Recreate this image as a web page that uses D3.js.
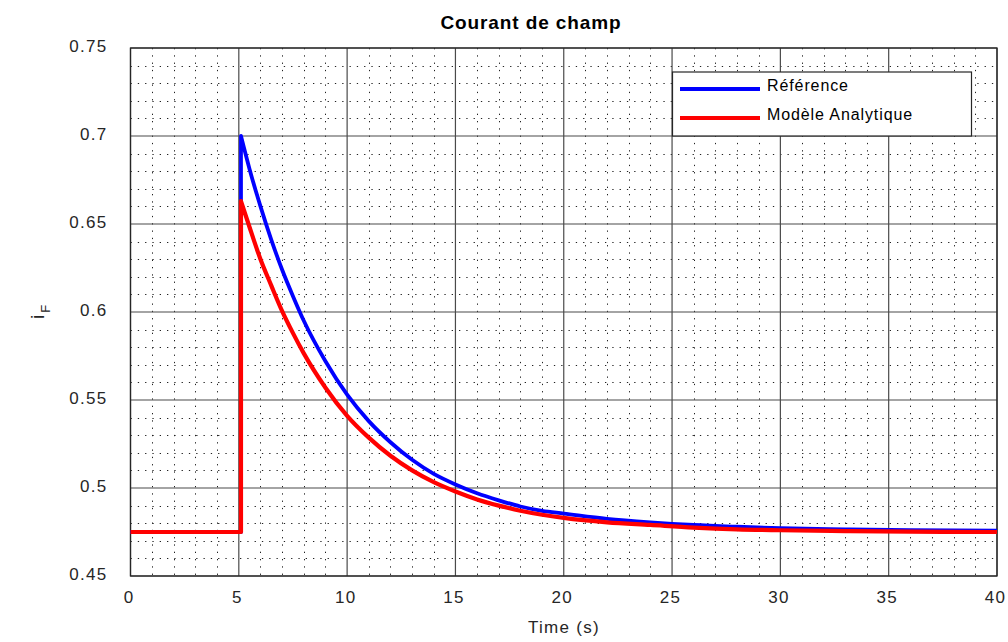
<!DOCTYPE html>
<html>
<head>
<meta charset="utf-8">
<script src="https://cdn.jsdelivr.net/npm/d3@7"></script>
<style>
  html, body { margin: 0; padding: 0; background: #fff; }
  svg { display: block; font-family: "Liberation Sans", Arial, Helvetica, sans-serif; }
</style>
</head>
<body>
<svg id="chart" width="1008" height="642"></svg>
<script>
// ---- data ----
const title = "Courant de champ";
const xLabel = "Time (s)";
const xTicks = [0, 5, 10, 15, 20, 25, 30, 35, 40];
const yTicks = [0.45, 0.5, 0.55, 0.6, 0.65, 0.7, 0.75];
const seriesNames = ["Référence", "Modèle Analytique"];

const refT = [0, 5.1, 5.1, 5.5, 6, 6.5, 7, 7.5, 8, 9, 10, 11, 12, 13, 14, 15, 16, 17, 18, 19, 20, 22, 24, 26, 28, 30, 33, 36, 40];
const refV = [0.475, 0.475, 0.700, 0.681, 0.660, 0.641, 0.624, 0.609, 0.595, 0.572, 0.553, 0.538, 0.526, 0.516, 0.508, 0.502, 0.497, 0.493, 0.4895, 0.487, 0.4855, 0.4825, 0.4805, 0.479, 0.478, 0.4772, 0.4765, 0.476, 0.4757];

const modT = [0, 5.1, 5.1, 5.5, 6, 6.5, 7, 7.5, 8, 9, 10, 11, 12, 13, 14, 15, 16, 17, 18, 19, 20, 22, 24, 26, 28, 30, 33, 36, 40];
const modV = [0.475, 0.475, 0.663, 0.648, 0.630, 0.615, 0.6005, 0.588, 0.5765, 0.557, 0.541, 0.5286, 0.5183, 0.510, 0.5033, 0.498, 0.4935, 0.490, 0.4871, 0.4848, 0.483, 0.4805, 0.479, 0.4775, 0.4765, 0.476, 0.4755, 0.4752, 0.475];

// ---- layout ----
const L = 130.5, R = 997, T = 48, B = 576;
const FONT = "Liberation Sans, Arial, sans-serif";
const svg = d3.select("#chart");
const x = d3.scaleLinear().domain([0, 40]).range([L, R]);
const y = d3.scaleLinear().domain([0.45, 0.75]).range([B, T]);

svg.append("rect").attr("width", 1008).attr("height", 642).attr("fill", "#fff");

// minor grid
const minorX = d3.range(0, 41).filter(v => v % 5 !== 0);
const minorY = d3.range(0, 31).filter(i => i % 5 !== 0).map(i => 0.45 + i * 0.01);
const g = svg.append("g");
g.selectAll(".mx").data(minorX).join("line")
  .attr("x1", d => Math.round(x(d)) + 0.5).attr("x2", d => Math.round(x(d)) + 0.5)
  .attr("y1", T).attr("y2", B)
  .attr("stroke", "#222").attr("stroke-width", 1).attr("stroke-dasharray", "1.3,6");
g.selectAll(".my").data(minorY).join("line")
  .attr("y1", d => Math.round(y(d)) + 0.5).attr("y2", d => Math.round(y(d)) + 0.5)
  .attr("x1", L).attr("x2", R)
  .attr("stroke", "#222").attr("stroke-width", 1).attr("stroke-dasharray", "1.3,6");

// major grid
g.selectAll(".gx").data(xTicks).join("line")
  .attr("x1", d => x(d)).attr("x2", d => x(d))
  .attr("y1", T).attr("y2", B)
  .attr("stroke", "#4a4a4a").attr("stroke-width", 1.2);
g.selectAll(".gy").data(yTicks).join("line")
  .attr("y1", d => y(d)).attr("y2", d => y(d))
  .attr("x1", L).attr("x2", R)
  .attr("stroke", "#4a4a4a").attr("stroke-width", 1.2);

// axes (labels)
const xAxis = d3.axisBottom(x).tickValues(xTicks).tickSize(0).tickPadding(15).tickFormat(d3.format("d"));
const yAxis = d3.axisLeft(y).tickValues(yTicks).tickSize(0).tickPadding(23).tickFormat(d => String(+d.toFixed(2)));
const gx = svg.append("g").attr("transform", `translate(-2,${B})`).call(xAxis);
const gy = svg.append("g").attr("transform", `translate(${L},-2)`).call(yAxis);
[gx, gy].forEach(a => {
  a.select(".domain").remove();
  a.selectAll("text").attr("font-size", 17).attr("fill", "#262626")
    .attr("letter-spacing", 1.3).attr("font-family", FONT);
});

// frame
svg.append("rect").attr("x", L).attr("y", T).attr("width", R - L).attr("height", B - T)
  .attr("fill", "none").attr("stroke", "#262626").attr("stroke-width", 1.3);

// lines: vertical step drawn linearly, decay drawn smooth
function drawSeries(ts, vs, color, width) {
  const pts = ts.map((t, i) => [t, vs[i]]);
  const peak = ts.findIndex((t, i) => i > 0 && t === ts[i - 1]);
  const lin = d3.line().x(d => x(d[0])).y(d => y(d[1]));
  const smooth = d3.line().x(d => x(d[0])).y(d => y(d[1])).curve(d3.curveMonotoneX);
  const dPath = lin(pts.slice(0, peak + 1)) + smooth(pts.slice(peak)).replace(/^M/, "L");
  svg.append("path").attr("d", dPath)
    .attr("fill", "none").attr("stroke", color).attr("stroke-width", width)
    .attr("stroke-linejoin", "round");
}
drawSeries(refT, refV, "#0000ff", 3.8);
drawSeries(modT, modV, "#ff0000", 4.2);

// legend
const lg = svg.append("g");
lg.append("rect").attr("x", 672.5).attr("y", 72).attr("width", 299).attr("height", 64)
  .attr("fill", "#fff").attr("stroke", "#262626").attr("stroke-width", 1.2);
const colors = ["#0000ff", "#ff0000"];
seriesNames.forEach((n, i) => {
  const yy = 89 + i * 29;
  lg.append("line").attr("x1", 680).attr("x2", 760).attr("y1", yy).attr("y2", yy)
    .attr("stroke", colors[i]).attr("stroke-width", 4);
  lg.append("text").attr("x", 767).attr("y", yy + 2).attr("font-size", 16)
    .attr("letter-spacing", 0.9).attr("fill", "#000").text(n);
});

// title
svg.append("text").attr("x", 531).attr("y", 29).attr("text-anchor", "middle")
  .attr("font-size", 19).attr("font-weight", "bold").attr("letter-spacing", 0.9)
  .attr("fill", "#000").text(title);

// x label
svg.append("text").attr("x", 564).attr("y", 633).attr("text-anchor", "middle")
  .attr("font-size", 17).attr("letter-spacing", 1.3).attr("fill", "#262626").text(xLabel);

// y label i_F
const yl = svg.append("text").attr("transform", "translate(44,312) rotate(-90)")
  .attr("text-anchor", "middle").attr("font-size", 19).attr("fill", "#262626");
yl.append("tspan").text("i");
yl.append("tspan").attr("font-size", 13).attr("dy", 6).attr("dx", 2).text("F");
</script>
</body>
</html>
